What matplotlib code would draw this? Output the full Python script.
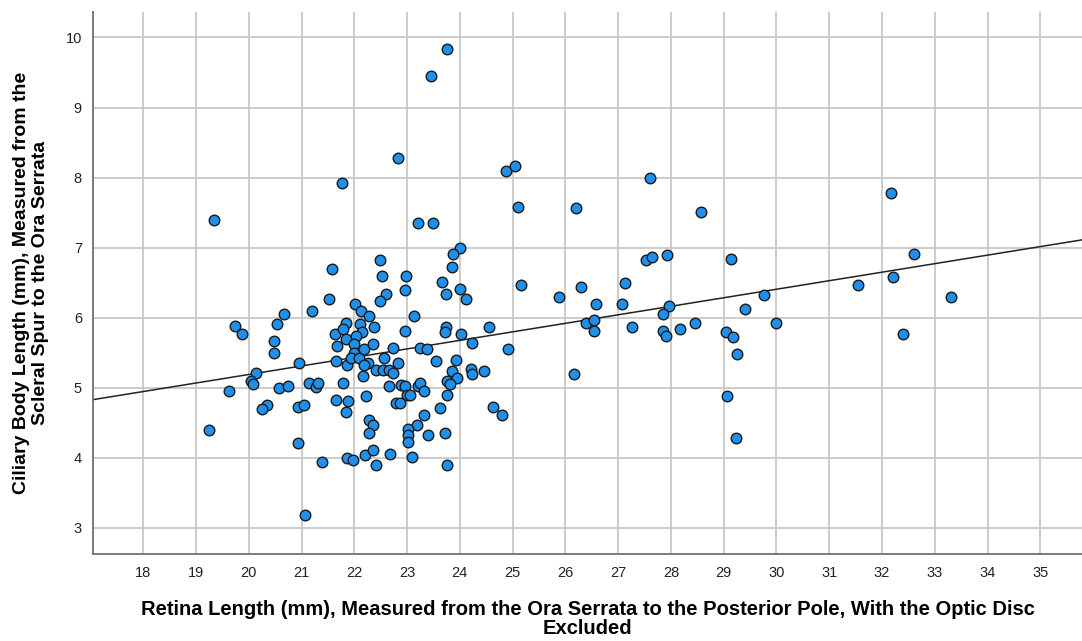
import numpy as np
import matplotlib.pyplot as plt
from matplotlib import font_manager

# retina length (mm) vs ciliary body length (mm)
retina_len = [
    23.76, 23.45, 22.83, 21.77, 19.34, 23.21, 23.50, 22.49, 21.58, 24.87,
    25.04, 25.11, 26.21, 27.60, 28.57, 24.01, 23.88, 23.86, 27.53, 27.65,
    27.92, 29.14, 23.66, 23.74, 24.01, 24.12, 25.15, 25.88, 26.29, 27.13,
    27.07, 26.59, 27.96, 27.85, 29.41, 23.74, 23.71, 24.02, 24.55, 24.24,
    24.92, 26.40, 26.55, 26.55, 27.26, 27.85, 27.90, 28.18, 28.45, 29.04,
    29.17, 29.26, 23.93, 23.86, 23.94, 23.76, 23.82, 24.22, 24.24, 24.45,
    26.16, 23.76, 23.63, 24.62, 24.79, 29.07, 29.24, 23.71, 23.76, 32.17,
    32.60, 32.20, 31.54, 33.31, 29.76, 29.99, 32.40, 19.24, 19.63, 19.74,
    19.88, 20.14, 20.04, 20.09, 20.35, 20.25, 20.47, 20.47, 20.54, 20.66,
    20.57, 20.74, 20.95, 20.94, 21.04, 20.93, 21.07, 21.19, 21.14, 21.27,
    21.32, 21.38, 21.53, 21.65, 21.63, 21.68, 21.79, 21.65, 21.88, 21.84,
    21.84, 21.78, 21.84, 21.86, 22.01, 22.13, 22.28, 22.10, 22.15, 22.03,
    21.99, 21.99, 21.93, 22.09, 22.18, 22.26, 22.18, 22.37, 22.35, 22.17,
    22.22, 21.86, 21.97, 22.20, 22.27, 22.35, 22.27, 22.35, 22.41, 22.68,
    22.52, 22.61, 22.49, 22.98, 22.97, 23.14, 22.97, 22.73, 22.56, 22.41,
    22.55, 22.65, 22.73, 22.83, 23.25, 23.38, 23.54, 22.66, 22.89, 22.97,
    23.21, 23.24, 23.33, 23.00, 23.06, 22.80, 22.87, 23.32, 23.19, 23.02,
    23.02, 23.02, 23.40, 23.09,
]
ciliary_len = [
    9.83, 9.45, 8.28, 7.92, 7.39, 7.35, 7.35, 6.82, 6.70, 8.09,
    8.16, 7.58, 7.56, 7.99, 7.51, 6.99, 6.91, 6.72, 6.82, 6.87,
    6.89, 6.84, 6.51, 6.34, 6.41, 6.27, 6.46, 6.29, 6.44, 6.49,
    6.20, 6.20, 6.17, 6.05, 6.12, 5.86, 5.79, 5.77, 5.86, 5.64,
    5.55, 5.93, 5.96, 5.81, 5.86, 5.81, 5.74, 5.84, 5.93, 5.79,
    5.72, 5.48, 5.39, 5.24, 5.14, 5.10, 5.06, 5.27, 5.19, 5.24,
    5.19, 4.90, 4.71, 4.73, 4.61, 4.88, 4.28, 4.35, 3.90, 7.78,
    6.91, 6.58, 6.46, 6.30, 6.32, 5.93, 5.77, 4.40, 4.95, 5.88,
    5.77, 5.21, 5.10, 5.06, 4.76, 4.69, 5.67, 5.50, 5.91, 6.05,
    5.00, 5.02, 5.36, 4.73, 4.76, 4.21, 3.18, 6.10, 5.07, 5.01,
    5.07, 3.94, 6.27, 5.38, 5.77, 5.60, 5.07, 4.83, 4.81, 4.66,
    5.93, 5.84, 5.69, 5.33, 6.20, 6.10, 6.03, 5.91, 5.79, 5.74,
    5.62, 5.50, 5.42, 5.43, 5.55, 5.36, 5.33, 5.86, 5.62, 5.17,
    4.88, 4.00, 3.97, 4.04, 4.54, 4.47, 4.35, 4.11, 3.90, 4.06,
    6.60, 6.34, 6.24, 6.60, 6.39, 6.03, 5.81, 5.57, 5.43, 5.26,
    5.26, 5.26, 5.21, 5.36, 5.57, 5.55, 5.38, 5.02, 5.04, 5.02,
    5.02, 5.07, 4.95, 4.90, 4.90, 4.78, 4.78, 4.61, 4.47, 4.41,
    4.33, 4.23, 4.33, 4.01,
]

# fit line as drawn in the figure
fit_intercept = 4.83   # value at x = 17.05
fit_x0 = 17.05
fit_slope = 0.1217

x_ticks = list(range(18, 36))
y_ticks = list(range(3, 11))

installed = {f.name for f in font_manager.fontManager.ttflist}
narrow = 'Liberation Sans Narrow' if 'Liberation Sans Narrow' in installed else 'Liberation Sans'

fig = plt.figure(figsize=(10.82, 6.41), dpi=100)
ax = fig.add_axes([0.086, 0.135, 0.914, 0.847])

ax.set_xlim(17.05, 35.79)
ax.set_ylim(2.62, 10.37)
ax.set_xticks(x_ticks)
ax.set_yticks(y_ticks)
ax.grid(True, color='#c8c8c8', linewidth=1.3)
ax.set_axisbelow(True)

for s in ['top', 'right']:
    ax.spines[s].set_visible(False)
for s in ['left', 'bottom']:
    ax.spines[s].set_color('#7a7a7a')
    ax.spines[s].set_linewidth(1.4)

ax.tick_params(length=0, labelsize=10.5, colors='#222222')
ax.tick_params(axis='x', pad=8)
ax.tick_params(axis='y', pad=8)
for lab in ax.get_xticklabels() + ax.get_yticklabels():
    lab.set_family(narrow)

xl = np.array([17.05, 35.79])
ax.plot(xl, fit_intercept + fit_slope * (xl - fit_x0), color='#222222', linewidth=1.1, zorder=2)

ax.scatter(retina_len, ciliary_len, s=58, color='#1e8fea', edgecolors='#1a1a1a',
           linewidths=1.0, zorder=3)

ax.set_xlabel('Retina Length (mm), Measured from the Ora Serrata to the Posterior Pole, With the Optic Disc\nExcluded',
              fontsize=14.5, fontweight='bold', family=narrow, labelpad=15, linespacing=1.0)
ax.set_ylabel('Ciliary Body Length (mm), Measured from the\nScleral Spur to the Ora Serrata',
              fontsize=14, fontweight='bold', family=narrow, labelpad=12, linespacing=1.15)

plt.savefig('out.png', dpi=100)
